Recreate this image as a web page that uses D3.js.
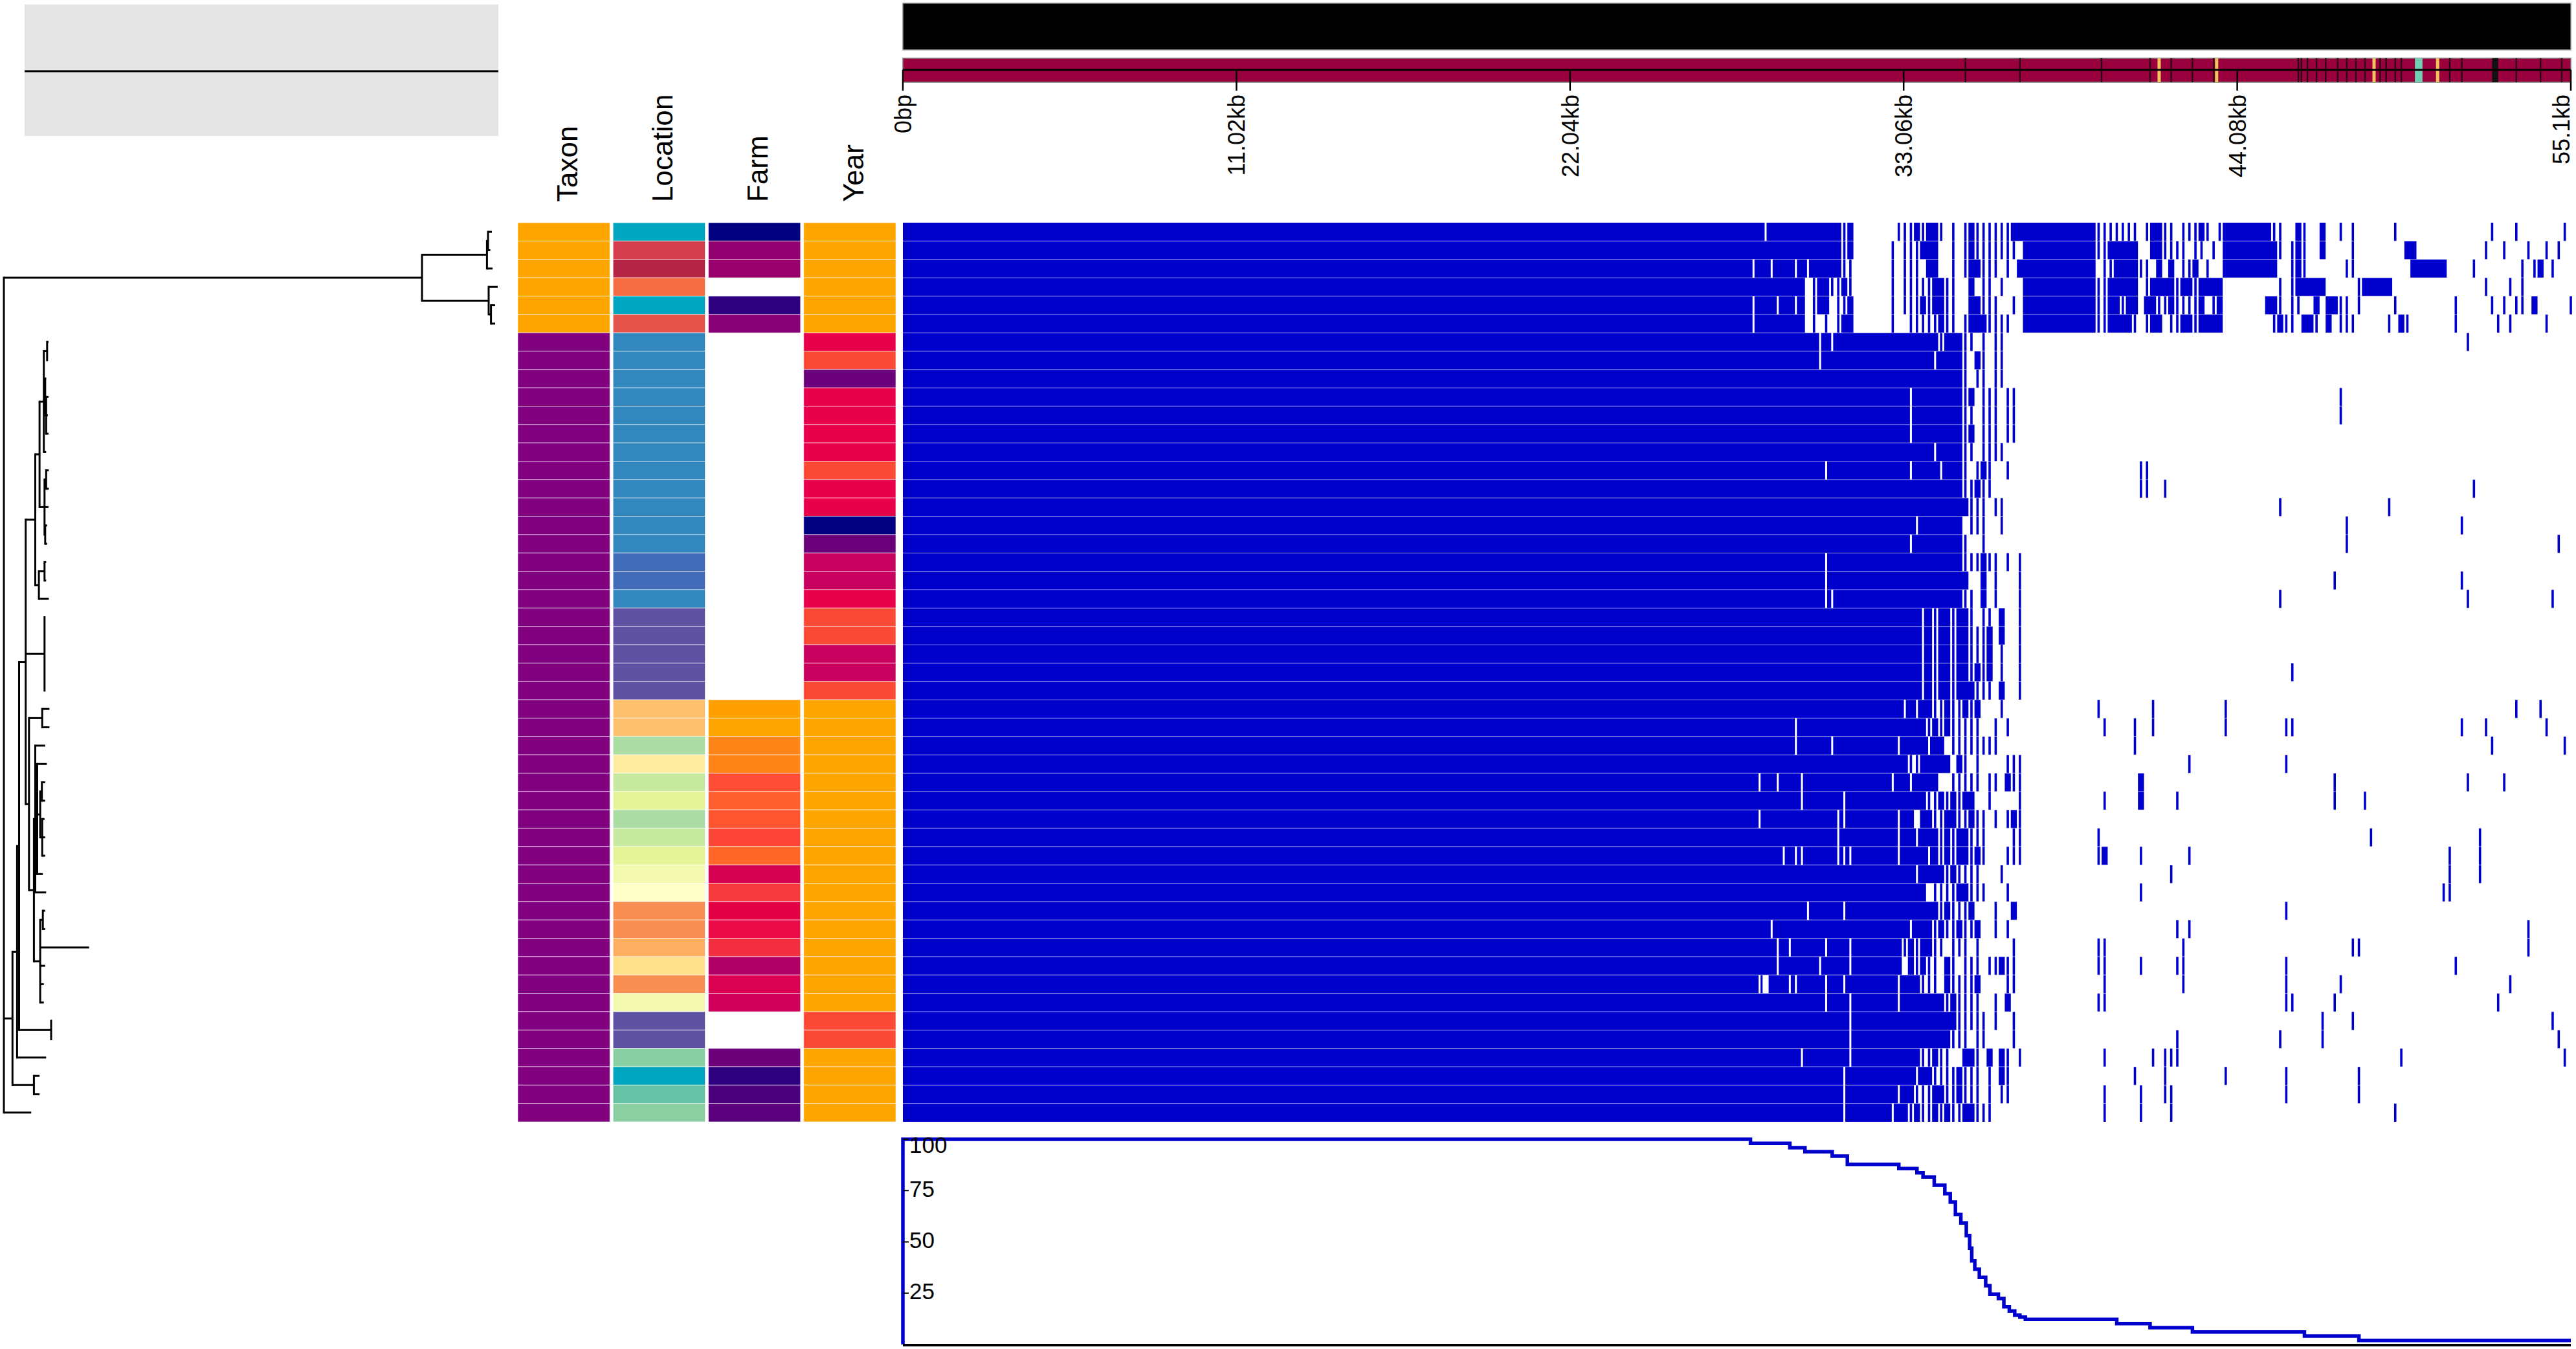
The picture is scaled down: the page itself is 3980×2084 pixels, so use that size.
<!DOCTYPE html>
<html><head><meta charset="utf-8">
<script src="https://cdn.jsdelivr.net/npm/d3@7"></script>
<style>html,body{margin:0;padding:0;background:#fff;}svg{display:block;font-family:"Liberation Sans",Arial,Helvetica,sans-serif;}</style>
</head><body>
<svg id="chart" width="3980" height="2084"></svg>
<script>
// ---------------- DATA ----------------
const genomeLengthKb = 55.1;
const axisTickKb = [0, 11.02, 22.04, 33.06, 44.08, 55.1];
const axisTickLabels = ["0bp", "11.02kb", "22.04kb", "33.06kb", "44.08kb", "55.1kb"];
const metaColumns = ["Taxon", "Location", "Farm", "Year"];

// annotation track (kb)
const annotDarkKb = [35.1, 36.9, 39.6, 41.2, 41.9, 42.6, 43.3, 46.1, 46.2, 46.4, 46.7, 47.0, 47.4, 47.7, 48.0, 48.3, 48.8, 49.0, 49.3, 49.5, 51.1, 51.5, 53.3, 54.1, 54.8];
const annotYellowKb = [41.5, 43.4, 48.6, 50.7];
const annotTealKb = [[49.95, 50.2]];
const annotBlackKb = [[52.5, 52.7]];

// tree (tip tN = heatmap row N)
const treeNewick = [
  "(",
  "(((t0:6,t1:3.5):1.6,t2:8.6):100.4,(t3:14,(t4:6.4,t5:6.4):3.6):103):646,",
  "(((",
  "(((((t6:2.1,t7:1.1):5.1,(t8:1.5,(t9:3.6,t10:2.6,t11:3.6):1.5):2.1,t12:3.6):6.6,((t13:4.1,t14:4.1):2.5,t15:6.1,(t16:3,t17:3):1):7.7):6.6,((t18:2.5,t19:2.5):8.7,t20:15.3):5.6):14.8,",
  "(t21:0.5,t22:0.5,t23:0.5,t24:0.5,t25:0.5):29.1,",
  "((t26:11.2,t27:11.2):20.4,((t28:15.3,(t29:14.8,((t30:5.1,t31:5.1):2.6,(t32:3.6,t33:4.6,t34:4.6):3.1):4.6,t35:8.7):3,t36:16.8):2.1,((t37:3.6,t38:3.6):4.1,t39:75.5,t40:7.7,t41:5.6,t42:5.6):9.7):7.6):5.1)",
  ":10.2,(t43:1,t44:1):49.5):3.1,t45:44.9):7.1,(t46:8.7,t47:8.7):33.1):13.3,",
  "t48:42.3);"
].join("");

// metadata (codes per row, top to bottom)
const taxonValues = ["A","A","A","A","A","A","B","B","B","B","B","B","B","B","B","B","B","B","B","B","B","B","B","B","B","B","B","B","B","B","B","B","B","B","B","B","B","B","B","B","B","B","B","B","B","B","B","B","B"];
const taxonPalette = {A: "#ffa500", B: "#800080"};
const locationValues = ["L01","L02","L03","L04","L01","L05","L06","L06","L06","L06","L06","L06","L06","L06","L06","L06","L06","L06","L07","L07","L06","L08","L08","L08","L08","L08","L09","L09","L10","L11","L12","L13","L10","L12","L13","L14","L15","L16","L16","L17","L18","L16","L14","L08","L08","L19","L01","L20","L21"];
const locationPalette = {L01:"#00a6bf",L02:"#d53e4f",L03:"#b52345",L04:"#f46d43",L05:"#e5544a",L06:"#3288bd",L07:"#436cb8",L08:"#5f52a2",L09:"#fec26f",L10:"#abdda4",L11:"#feeda0",L12:"#c7e9a0",L13:"#e6f598",L14:"#f3f9ae",L15:"#ffffc8",L16:"#f98e52",L17:"#fdae61",L18:"#fee08b",L19:"#88cfa4",L20:"#66c2a5",L21:"#8ccfa3"};
const farmValues = ["F01","F02","F03",null,"F04","F05",null,null,null,null,null,null,null,null,null,null,null,null,null,null,null,null,null,null,null,null,"F06","F07","F08","F08","F09","F10","F11","F12","F13","F14","F15","F16","F17","F18","F19","F20","F21",null,null,"F22","F04","F23","F24"];
const farmPalette = {F01:"#000080",F02:"#930070",F03:"#9a006c",F04:"#2c007e",F05:"#870075",F06:"#ffa000",F07:"#ffa500",F08:"#ff8519",F09:"#ff4e35",F10:"#ff5e2e",F11:"#ff5530",F12:"#fc4538",F13:"#ff6627",F14:"#d5004f",F15:"#f5393d",F16:"#e40044",F17:"#ec0a48",F18:"#f22e40",F19:"#b10066",F20:"#da0052",F21:"#d0005a",F22:"#6c0078",F23:"#4a007d",F24:"#5a007c"};
const yearValues = ["Y1","Y1","Y1","Y1","Y1","Y1","Y2","Y3","Y4","Y2","Y2","Y2","Y2","Y3","Y2","Y2","Y5","Y4","Y6","Y6","Y2","Y3","Y3","Y6","Y6","Y3","Y1","Y1","Y1","Y1","Y1","Y1","Y1","Y1","Y1","Y1","Y1","Y1","Y1","Y1","Y1","Y1","Y1","Y3","Y3","Y1","Y1","Y1","Y1"];
const yearPalette = {Y1:"#ffa500",Y2:"#e8004a",Y3:"#fa4a35",Y4:"#6a007a",Y5:"#000080",Y6:"#c8005e"};

// presence/absence: every row present 0..27.0 kb; then bins of 0.2 kb
// '1' present, 'w' present with a hairline gap, '|' narrow hit, '0' absent
const solidUntilKb = 27.0;
const binKb = 0.2;
const presence = [
"1111111w11 1111111111 |10000000| ||1|11|0|0 |1||||||11 1111111111 11|||||||0 |11||0|||1 |0|1111111 1||001|001 00|0|00000 0|00000000 0000000|00 0|0000000| 0",
"1111111111 1111111111 |1000000|0 |||11100|0 |1|||||||0 1111111111 11||111110 011||||0|| 0|01111111 11|0|1|001 0000|00000 0001100000 000000|00| 000|00|0|0 0",
"11111w11w1 11w1w11111 ||000000|0 |||01100|0 |11|||0|01 1111111111 110||1111| |01010||10 |001111111 1100|1|000 000||00000 0000111111 0000|00000 00|0|10|00 0",
"1111111111 11110|11|| 1|000000|0 |||||11||0 010||0|000 1111111111 11||111110 |1111|11|1 1110000000 00|0|11111 00000|1111 1000000000 000000|000 |0|0000000 0",
"11111w111w 11w10|110| |1000000|0 |||1|11||0 011|||00|0 1111111111 11||11|110 11||1||||1 0|10000000 11|0||0010 11||0|0000 0|00000000 0|00000|0| 0||0100000 |",
"11111w1111 11110|0|0| 11000000|0 0|||||1||0 |111||||00 1111111111 11||1111|0 |110||11|1 1110000000 0|1||011|0 10|||00000 |01|000000 0|000000|0 |00000|000 0",
"1111111111 111111w1w1 1111111111 111111|111 ||0|0||000 0000000000 0000000000 0000000000 0000000000 0000000000 0000000000 0000000000 000|000000",
"1111111111 111111w111 1111111111 11111w1111 |01|0||000",
"1111111111 1111111111 1111111111 1111111111 |0||0||000",
"1111111111 1111111111 1111111111 1w11111111 |10|||0||0 0000000000 0000000000 0000000000 0000000000 0000000000 00|0000000",
"1111111111 1111111111 1111111111 1w11111111 ||0|||0||0 0000000000 0000000000 0000000000 0000000000 0000000000 00|0000000",
"1111111111 1111111111 1111111111 1w11111111 |10|||0||0",
"1111111111 1111111111 1111111111 11111w1111 ||0||||000",
"1111111111 1111111w11 1111111111 1w1111w111 |0|1|00|00 0000000000 000000000| |000000000",
"1111111111 1111111111 1111111111 1111111111 ||1||00000 0000000000 000000000| |00|000000 0000000000 0000000000 0000000000 0000000000 0000|00000",
"1111111111 1111111111 1111111111 1111111111 1|||0||000 0000000000 0000000000 0000000000 0000000000 00|0000000 0000000000 |000000000",
"1111111111 1111111111 1111111111 11w1111111 0|||00|000 0000000000 0000000000 0000000000 0000000000 0000000000 000|000000 0000000000 00|0000000",
"1111111111 1111111111 1111111111 1w11111111 |00|000000 0000000000 0000000000 0000000000 0000000000 0000000000 000|000000 0000000000 0000000000 00000000|0",
"1111111111 1111111w11 1111111111 1111111111 |||1||0|0|",
"1111111111 1111111w11 1111111111 1111111111 10010|000| 0000000000 0000000000 0000000000 0000000000 0000000000 0|00000000 0000000000 00|0000000",
"1111111111 1111111ww1 1111111111 1111111111 ||010|000| 0000000000 0000000000 0000000000 0000000000 00|0000000 0000000000 0000000000 000|000000 0000000|00",
"1111111111 1111111111 1111111111 111w1|11|1 1|0||0100|",
"1111111111 1111111111 1111111111 111w1|11|1 1|||10100|",
"1111111111 1111111111 1111111111 111w1|11|1 1|||10|00|",
"1111111111 1111111111 1111111111 111w1|11|1 1|1|10|00| 0000000000 0000000000 0000000000 0000000000 0000|00000",
"1111111111 1111111111 1111111111 111w1|11|1 11|||0100|",
"1111111111 1111111111 1111111111 w1w11||1|| 1|1000|000 0000000000 00|0000000 0|00000000 000|000000 0000000000 0000000000 0000000000 0000000000 0|000|0000",
"1111111111 11w1111111 1111111111 1111|1|1|| |||00|0|00 0000000000 000|0000|0 0|00000000 000|000000 000||00000 0000000000 0000000000 00|000|000 000000|000",
"1111111111 11w11111w1 111111111w 1111w110|| ||||||0000 0000000000 00000000|0 0000000000 0000000000 0000000000 0000000000 0000000000 0000000|00 000000000|",
"1111111111 1111111111 1111111111 1||1111101 |0|0000||| 0000000000 0000000000 0000000|00 0000000000 000|000000",
"111111w11w 111w111111 11111111w1 1w111100|| |||0||01|| 0000000000 0000000001 0000000000 0000000000 0000000000 0|00000000 0000000000 000|00000|",
"1111111111 111w111111 w111111111 1111||1|1| 1100|0000| 0000000000 000|000001 00000|0000 0000000000 0000000000 0|0000|000",
"111111w111 111111111w w11111111w 11011||11| |1||0|0|1|",
"1111111111 111111111w 111111111w 11w111|1|1 1|||0000|| 0000000000 00|0000000 0000000000 0000000000 0000000000 0000000|00 0000000000 00000|0000",
"1111111111 w1ww11111w ww1111111w 1111w1|1|1 1|1|000||| 0000000000 00|100000| 0000000|00 0000000000 0000000000 0000000000 0000000000 |0000|0000",
"1111111111 1111111111 1111111111 11w1111|1| |||000|000 0000000000 0000000000 0000|00000 0000000000 0000000000 0000000000 0000000000 |0000|0000",
"1111111111 1111111111 1111111111 11110||||1 1|||000|00 0000000000 000000000| 0000000000 0000000000 0000000000 0000000000 000000000| |000000000",
"1111111111 1111w11111 w111111111 111111|1|| |1000|0010 0000000000 0000000000 0000000000 0000000000 000|000000",
"11111111w1 1111111111 1111111111 1w111|1||1 ||100|0|00 0000000000 0000000000 00000|0|00 0000000000 0000000000 0000000000 0000000000 0000000000 000|000000",
"111111111w 1w11111w11 1w11111111 |1|11||0|| |0|00000|0 0000000000 00||000000 000000|000 0000000000 0000000000 0000||0000 0000000000 0000000000 000|000000",
"111111111w 111111w111 1w11111111 01|1||01|0 |||0||1||0 0000000000 00||00000| 00000||000 0000000000 000|000000 0000000000 0000000000 0|00000000",
"111111w011 1ww1111w11 w11111111w 111|||01|| ||10000||0 0000000000 000|000000 000000|000 0000000000 000|000000 00|0000000 0000000000 0000000000 |000000000",
"1111111111 1111111w11 1w1111111w 1111111|1| |||00|0100 0000000000 00||000000 0000000000 0000000000 000||00000 0|00000000 0000000000 00000000|0",
"1111111111 1111111111 1w11111111 111111111| ||||0|00|0 0000000000 0000000000 0000000000 0000000000 000000000| 0000|00000 0000000000 0000000000 0000000|00",
"1111111111 1111111111 1w11111111 11111111|| |0||0000|0 0000000000 0000000000 00000|0000 0000000000 00|000000| 0000000000 0000000000 0000000000 00000000|0",
"1111111111 111w111111 1w11111111 111||1||00 11|0101|0| 0000000000 000|000000 0|0|||0000 0000000000 0000000000 0000000000 00|0000000 0000000000 000000000|",
"1111111111 1111111111 w111111111 11w11||||1 |||0|01|00 0000000000 00000000|0 000|000000 000|000000 000|000000 00000|0000",
"1111111111 1111111111 w11111111w 11|||11||1 |||0|0||00 0000000000 000|00000| 000||00000 0000000000 000|000000 00000|0000",
"1111111111 1111111111 w1111111w1 1|1||1|1|| 11|||00000 0000000000 000|00000| 0000|00000 0000000000 0000000000 0000000000 0|00000000"
];

// sorted presence curve (kb, % of genomes), drawn as steps
const curveKb  = [0, 0, 28.0, 29.3, 29.8, 30.7, 31.2, 32.9, 33.5, 33.7, 34.07, 34.42, 34.6, 34.77, 34.95, 35.13, 35.24, 35.31, 35.41, 35.56, 35.77, 35.91, 36.19, 36.37, 36.55, 36.73, 36.9, 37.08, 40.1, 41.2, 42.6, 46.3, 48.1, 55.1];
const curvePct = [0, 100, 98.0, 95.9, 93.9, 91.8, 87.8, 85.7, 83.7, 81.6, 77.6, 73.5, 69.4, 63.3, 59.2, 53.1, 46.9, 40.8, 36.7, 32.7, 28.6, 24.5, 22.4, 18.4, 16.3, 14.3, 13.3, 12.2, 10.2, 8.2, 6.1, 4.1, 2.0, 2.0];
const curveTicks = [25, 50, 75, 100];

// ---------------- DRAW ----------------
const svg = d3.select("#chart");
const BLUE = "#0000cd";
const nRows = presence.length;

const xKb = d3.scaleLinear().domain([0, genomeLengthKb]).range([1395, 3972]);
const yRow = d3.scaleBand().domain(d3.range(nRows)).range([344, 1733]);
const xMeta = d3.scaleBand().domain(metaColumns).range([800, 1384]).paddingInner(0.034);

// legend placeholder box (top-left)
svg.append("rect").attr("x", 38).attr("y", 7).attr("width", 732).attr("height", 203).attr("fill", "#e5e5e5");
svg.append("line").attr("x1", 38).attr("x2", 770).attr("y1", 110).attr("y2", 110).attr("stroke", "#000").attr("stroke-width", 3);

// top black track
svg.append("rect").attr("x", xKb(0)).attr("y", 5).attr("width", xKb(genomeLengthKb) - xKb(0)).attr("height", 72)
  .attr("fill", "#000").attr("stroke", "#8a8a8a").attr("stroke-width", 1.5);

// annotation track
const annY0 = 90, annY1 = 127;
svg.append("rect").attr("x", xKb(0)).attr("y", annY0).attr("width", xKb(genomeLengthKb) - xKb(0)).attr("height", annY1 - annY0)
  .attr("fill", "#9b003e").attr("stroke", "#7a7a7a").attr("stroke-width", 1.5);
const ann = svg.append("g");
ann.selectAll(".ad").data(annotDarkKb).join("rect").attr("x", d => xKb(d) - 1.2).attr("width", 2.4)
  .attr("y", annY0).attr("height", annY1 - annY0).attr("fill", "#2b0614");
ann.selectAll(".ab").data(annotBlackKb).join("rect").attr("x", d => xKb(d[0])).attr("width", d => xKb(d[1]) - xKb(d[0]))
  .attr("y", annY0).attr("height", annY1 - annY0).attr("fill", "#111");
ann.selectAll(".ay").data(annotYellowKb).join("rect").attr("x", d => xKb(d) - 2.5).attr("width", 5)
  .attr("y", annY0).attr("height", annY1 - annY0).attr("fill", "#f1c45e");
ann.selectAll(".at").data(annotTealKb).join("rect").attr("x", d => xKb(d[0])).attr("width", d => xKb(d[1]) - xKb(d[0]))
  .attr("y", annY0).attr("height", annY1 - annY0).attr("fill", "#6fd0b2");

// genome axis
const axisY = 108;
svg.append("line").attr("x1", xKb(0)).attr("x2", xKb(genomeLengthKb)).attr("y1", axisY).attr("y2", axisY)
  .attr("stroke", "#000").attr("stroke-width", 3);
const tg = svg.append("g");
tg.selectAll("line").data(axisTickKb).join("line")
  .attr("x1", d => xKb(d)).attr("x2", d => xKb(d)).attr("y1", axisY).attr("y2", 140)
  .attr("stroke", "#000").attr("stroke-width", 2.5);
tg.selectAll("text").data(axisTickKb).join("text")
  .attr("transform", d => `translate(${xKb(d)},146) rotate(-90)`)
  .attr("text-anchor", "end")
  .attr("dy", (d, i) => i === axisTickKb.length - 1 ? "-0.05em" : "0.36em")
  .attr("font-size", 36).attr("fill", "#000")
  .text((d, i) => axisTickLabels[i]);

// metadata headers
svg.append("g").selectAll("text").data(metaColumns).join("text")
  .attr("transform", d => `translate(${xMeta(d) + xMeta.bandwidth() / 2 + 5},312) rotate(-90)`)
  .attr("text-anchor", "start").attr("dy", "0.36em").attr("font-size", 44).attr("fill", "#000")
  .text(d => d);

// metadata cells
const metaSets = [
  {col: "Taxon", values: taxonValues, color: d3.scaleOrdinal(Object.keys(taxonPalette), Object.values(taxonPalette))},
  {col: "Location", values: locationValues, color: d3.scaleOrdinal(Object.keys(locationPalette), Object.values(locationPalette))},
  {col: "Farm", values: farmValues, color: d3.scaleOrdinal(Object.keys(farmPalette), Object.values(farmPalette))},
  {col: "Year", values: yearValues, color: d3.scaleOrdinal(Object.keys(yearPalette), Object.values(yearPalette))}
];
const mg = svg.append("g");
metaSets.forEach(ms => {
  const cells = ms.values.map((v, i) => ({v, i})).filter(c => c.v !== null);
  mg.append("g").selectAll("rect").data(cells).join("rect")
    .attr("x", xMeta(ms.col)).attr("width", xMeta.bandwidth())
    .attr("y", c => yRow(c.i)).attr("height", yRow.bandwidth())
    .attr("fill", c => ms.color(c.v))
    .attr("stroke", "#ffffff").attr("stroke-opacity", 0.55).attr("stroke-width", 1);
});

// heatmap
const hm = svg.append("g");
const solids = [], hits = [], gaps = [];
presence.forEach((str, r) => {
  const chunks = str.trim().split(/\s+/);
  const bins = [];
  chunks.forEach(c => { for (let k = 0; k < 10; k++) bins.push(c[k] || "0"); });
  let runStart = 0, runEnd = solidUntilKb;
  const flush = () => { if (runStart !== null) solids.push({r, a: runStart, b: runEnd}); runStart = null; };
  bins.forEach((ch, b) => {
    const k0 = solidUntilKb + b * binKb, k1 = k0 + binKb;
    if (k0 >= genomeLengthKb) return;
    if (ch === "1" || ch === "w") {
      if (runStart === null) runStart = k0;
      runEnd = Math.min(k1, genomeLengthKb);
      if (ch === "w") gaps.push({r, k: k0 + binKb / 2});
    } else {
      flush();
      if (ch === "|") hits.push({r, k: k0 + binKb / 2});
    }
  });
  flush();
});
hm.selectAll(".s").data(solids).join("rect")
  .attr("x", d => xKb(d.a)).attr("width", d => xKb(d.b) - xKb(d.a))
  .attr("y", d => yRow(d.r)).attr("height", yRow.bandwidth()).attr("fill", BLUE);
hm.selectAll(".h").data(hits).join("rect")
  .attr("x", d => xKb(d.k) - 1.8).attr("width", 3.6)
  .attr("y", d => yRow(d.r)).attr("height", yRow.bandwidth()).attr("fill", BLUE);
hm.selectAll(".g").data(gaps).join("rect")
  .attr("x", d => xKb(d.k) - 1.5).attr("width", 3)
  .attr("y", d => yRow(d.r)).attr("height", yRow.bandwidth()).attr("fill", "#fff");
// row separators
hm.selectAll(".sep").data(d3.range(1, nRows)).join("line")
  .attr("x1", xKb(0)).attr("x2", xKb(genomeLengthKb))
  .attr("y1", d => yRow(d)).attr("y2", d => yRow(d))
  .attr("stroke", "#ffffff").attr("stroke-opacity", 0.4).attr("stroke-width", 1.2);

// tree
function parseNewick(s) {
  let i = 0;
  function node() {
    const n = {children: []};
    if (s[i] === "(") {
      i++;
      n.children.push(node());
      while (s[i] === ",") { i++; n.children.push(node()); }
      i++;
    }
    let name = "";
    while (i < s.length && !",():;".includes(s[i])) name += s[i++];
    n.name = name;
    n.length = 0;
    if (s[i] === ":") {
      i++;
      let l = "";
      while (i < s.length && !",();".includes(s[i])) l += s[i++];
      n.length = +l;
    }
    return n;
  }
  return node();
}
const root = d3.hierarchy(parseNewick(treeNewick), d => d.children.length ? d.children : null);
root.eachBefore(d => { d.dist = d.parent ? d.parent.dist + d.data.length : 0; });
const maxDist = d3.max(root.leaves(), d => d.dist);
const xTree = d3.scaleLinear().domain([0, maxDist]).range([6, 769]);
root.eachAfter(d => {
  if (!d.children) {
    const row = +d.data.name.slice(1);
    d.py = yRow(row) + yRow.bandwidth() / 2;
  } else {
    d.py = (d.children[0].py + d.children[d.children.length - 1].py) / 2;
  }
  d.px = xTree(d.dist);
});
const tree = svg.append("g").attr("stroke", "#000").attr("stroke-width", 3).attr("fill", "none");
tree.selectAll(".hz").data(root.descendants().filter(d => d.parent)).join("line")
  .attr("x1", d => d.parent.px).attr("x2", d => d.px).attr("y1", d => d.py).attr("y2", d => d.py);
tree.selectAll(".vt").data(root.descendants().filter(d => d.children)).join("line")
  .attr("x1", d => d.px).attr("x2", d => d.px)
  .attr("y1", d => d.children[0].py - 1.5).attr("y2", d => d.children[d.children.length - 1].py + 1.5);

// bottom presence curve
const yPct = d3.scaleLinear().domain([0, 100]).range([2077, 1760]);
const line = d3.line().x(d => xKb(d[0])).y(d => yPct(d[1])).curve(d3.curveStepAfter);
svg.append("path").datum(curveKb.map((k, i) => [k, curvePct[i]]))
  .attr("d", line).attr("fill", "none").attr("stroke", BLUE).attr("stroke-width", 5.5);
svg.append("line").attr("x1", xKb(0)).attr("x2", xKb(genomeLengthKb)).attr("y1", 2078).attr("y2", 2078)
  .attr("stroke", "#000").attr("stroke-width", 4);
const yt = svg.append("g");
yt.selectAll("line").data(curveTicks).join("line")
  .attr("x1", xKb(0)).attr("x2", xKb(0) + 9).attr("y1", d => yPct(d)).attr("y2", d => yPct(d))
  .attr("stroke", "#000").attr("stroke-width", 2);
yt.selectAll("text").data(curveTicks).join("text")
  .attr("x", xKb(0) + 10).attr("y", d => Math.max(yPct(d), 1772) - 3)
  .attr("dy", "0.35em").attr("font-size", 35).attr("fill", "#000")
  .text(d => d);
</script>
</body></html>
